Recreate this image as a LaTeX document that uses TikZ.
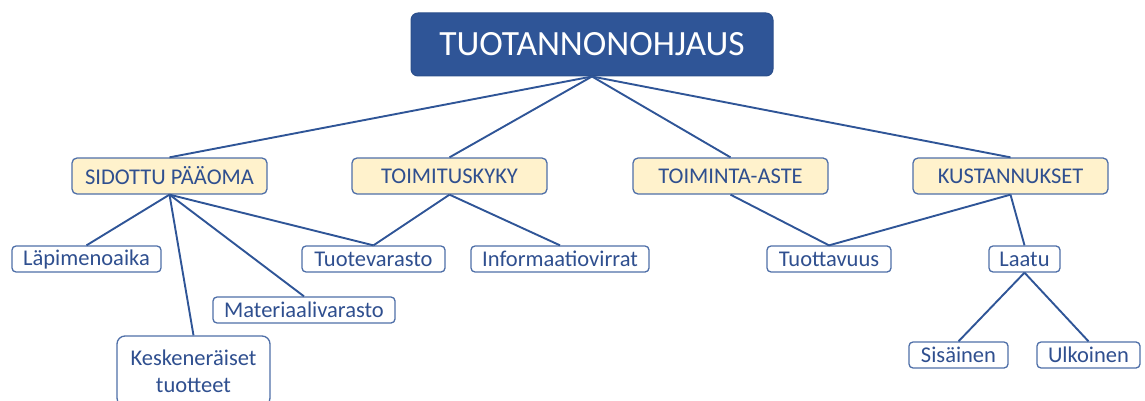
\documentclass[tikz,border=0pt]{standalone}
\usepackage{fontspec}
\setmainfont{Carlito}
\definecolor{navy}{HTML}{2F5597}
\definecolor{navyedge}{HTML}{2B4F8C}
\definecolor{cream}{HTML}{FFF2CC}
\definecolor{catedge}{HTML}{4F6FA8}
\definecolor{ink}{HTML}{2F4F8F}
\begin{document}
\begin{tikzpicture}[x=1pt,y=-1pt,
  rootbox/.style={draw=navyedge,fill=navy,line width=1pt,rounded corners=7pt,
    text=white,font=\fontsize{35.5}{40}\selectfont,inner sep=0pt},
  catbox/.style={draw=catedge,fill=cream,line width=1.3pt,rounded corners=5pt,
    text=ink,font=\fontsize{22.5}{26}\selectfont,inner sep=0pt,minimum height=36pt},
  leafbox/.style={draw=catedge,fill=white,line width=1.3pt,rounded corners=4pt,
    text=ink,font=\fontsize{22.5}{26}\selectfont,inner sep=0pt,minimum height=26pt},
  link/.style={draw=navy,line width=1.9pt}]
\useasboundingbox (0,0) rectangle (1145,401);

% root
\node[rootbox,minimum width=362pt,minimum height=63pt] (root) at (592,44.5) {TUOTANNONOHJAUS};

% categories
\node[catbox,minimum width=195pt] (sid) at (169.5,176) {SIDOTTU PÄÄOMA};
\node[catbox,minimum width=195pt] (toi) at (449.5,176) {TOIMITUSKYKY};
\node[catbox,minimum width=195pt] (ast) at (730.5,176) {TOIMINTA-ASTE};
\node[catbox,minimum width=195pt] (kus) at (1010.5,176) {KUSTANNUKSET};

% leaves
\node[leafbox,minimum width=149pt] (lap) at (86.5,259) {Läpimenoaika};
\node[leafbox,minimum width=153pt,minimum height=70pt,rounded corners=8pt,align=center,
  font=\fontsize{22.5}{27}\selectfont] (kes) at (193.5,371) {Keskeneräiset\\tuotteet};
\node[leafbox,minimum width=182pt] (mat) at (304,310) {Materiaalivarasto};
\node[leafbox,minimum width=143pt] (tuo) at (373.5,259) {Tuotevarasto};
\node[leafbox,minimum width=178pt] (inf) at (560,259) {Informaatiovirrat};
\node[leafbox,minimum width=124pt] (tva) at (829,259) {Tuottavuus};
\node[leafbox,minimum width=71pt] (laa) at (1024.5,259) {Laatu};
\node[leafbox,minimum width=99pt] (sis) at (958.5,355) {Sisäinen};
\node[leafbox,minimum width=103pt] (ulk) at (1088.5,355) {Ulkoinen};

% connectors
\foreach \c in {sid,toi,ast,kus}
  \draw[link] (root.south) -- (\c.north);
\foreach \l in {lap,kes,mat,tuo}
  \draw[link] (sid.south) -- (\l.north);
\draw[link] (toi.south) -- (tuo.north);
\draw[link] (toi.south) -- (inf.north);
\draw[link] (ast.south) -- (tva.north);
\draw[link] (kus.south) -- (tva.north);
\draw[link] (kus.south) -- (laa.north);
\draw[link] (laa.south) -- (sis.north);
\draw[link] (laa.south) -- (ulk.north);
\end{tikzpicture}
\end{document}
